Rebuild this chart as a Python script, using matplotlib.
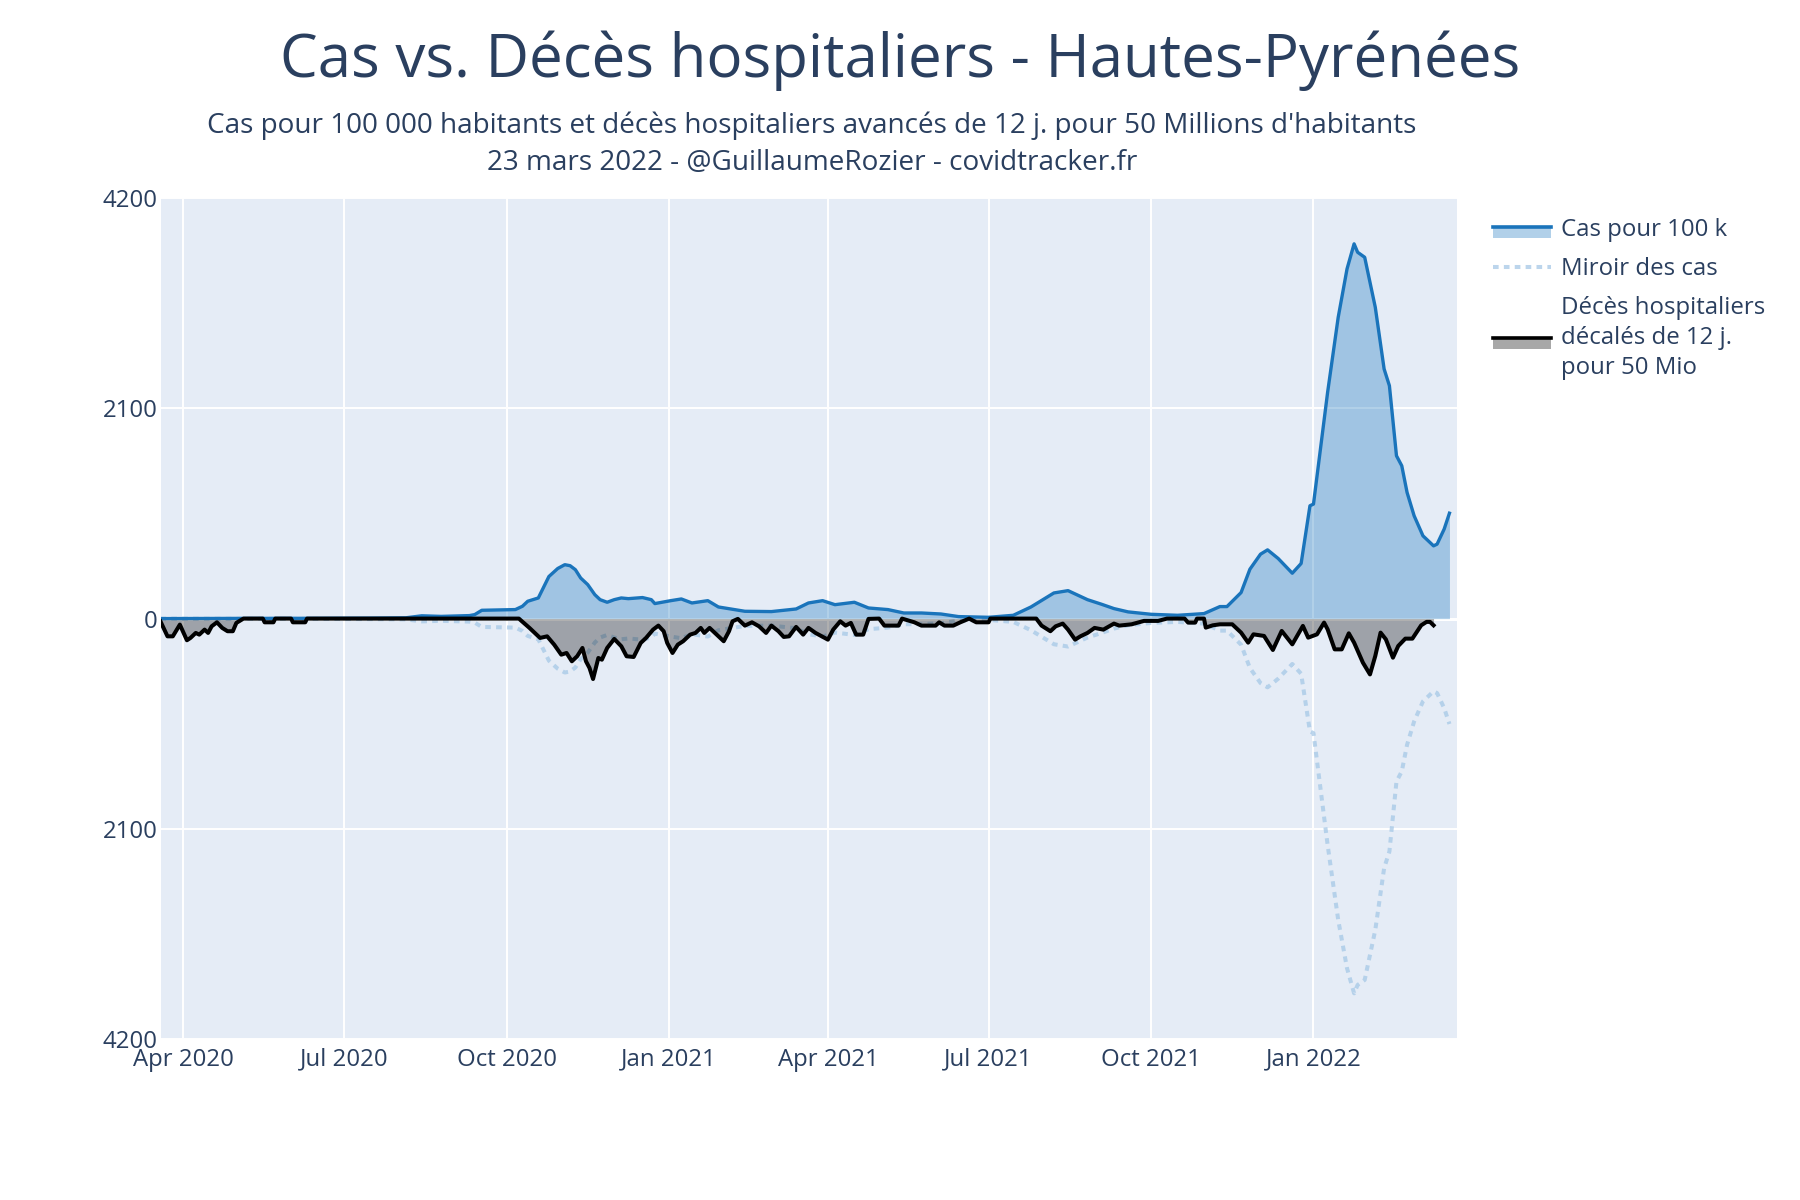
import matplotlib
matplotlib.use("Agg")
import matplotlib.pyplot as plt
import matplotlib.dates as mdates
from matplotlib.patches import Rectangle
from matplotlib.lines import Line2D
import numpy as np
import pandas as pd

# cases per 100k (7-day) - Hautes-Pyrenees
case_dates = ["2020-03-19", "2020-05-01", "2020-06-15", "2020-07-15", "2020-08-05", "2020-08-14",
              "2020-08-25", "2020-09-10", "2020-09-13", "2020-09-17", "2020-10-06", "2020-10-10",
              "2020-10-13", "2020-10-19", "2020-10-25", "2020-10-30", "2020-11-03", "2020-11-06",
              "2020-11-09", "2020-11-12", "2020-11-16", "2020-11-20", "2020-11-23", "2020-11-27",
              "2020-12-01", "2020-12-05", "2020-12-09", "2020-12-17", "2020-12-22", "2020-12-24",
              "2021-01-02", "2021-01-08", "2021-01-14", "2021-01-23", "2021-01-29", "2021-02-13",
              "2021-02-28", "2021-03-14", "2021-03-21", "2021-03-29", "2021-04-05", "2021-04-16",
              "2021-04-24", "2021-05-05", "2021-05-14", "2021-05-24", "2021-06-04", "2021-06-14",
              "2021-07-01", "2021-07-15", "2021-07-25", "2021-08-07", "2021-08-15", "2021-08-26",
              "2021-09-03", "2021-09-10", "2021-09-18", "2021-10-01", "2021-10-16", "2021-10-31",
              "2021-11-09", "2021-11-13", "2021-11-21", "2021-11-26", "2021-12-02", "2021-12-06",
              "2021-12-12", "2021-12-20", "2021-12-25", "2021-12-30", "2022-01-01", "2022-01-09",
              "2022-01-15", "2022-01-20", "2022-01-24", "2022-01-26", "2022-01-30", "2022-02-05",
              "2022-02-10", "2022-02-13", "2022-02-17", "2022-02-20", "2022-02-23", "2022-02-27",
              "2022-03-04", "2022-03-10", "2022-03-12", "2022-03-16", "2022-03-19"]
case_vals = [0, 2, 3, 5, 8, 28,
             22, 30, 40, 83, 90, 123,
             173, 206, 420, 500, 538, 528,
             488, 405, 339, 239, 189, 163,
             189, 206, 199, 210, 189, 150,
             179, 196, 156, 179, 116, 73,
             70, 96, 156, 179, 139, 163,
             106, 90, 56, 56, 46, 20,
             13, 33, 116, 256, 279, 189,
             143, 100, 67, 43, 33, 50,
             120, 120, 260, 493, 643, 686,
             600, 453, 550, 1126, 1143, 2258,
             3007, 3490, 3740, 3656, 3606, 3107,
             2491, 2324, 1625, 1525, 1259, 1026,
             826, 726, 743, 893, 1052]

# hospital deaths shifted 12 days, per 50 million
death_dates = ["2020-03-19", "2020-03-23", "2020-03-26", "2020-03-30", "2020-04-03", "2020-04-05",
               "2020-04-08", "2020-04-10", "2020-04-13", "2020-04-15", "2020-04-17", "2020-04-20",
               "2020-04-23", "2020-04-26", "2020-04-29", "2020-05-01", "2020-05-05", "2020-05-16",
               "2020-05-17", "2020-05-22", "2020-05-23", "2020-06-01", "2020-06-02", "2020-06-09",
               "2020-06-10", "2020-10-08", "2020-10-14", "2020-10-20", "2020-10-24", "2020-10-28",
               "2020-11-01", "2020-11-04", "2020-11-07", "2020-11-10", "2020-11-13", "2020-11-15",
               "2020-11-17", "2020-11-19", "2020-11-22", "2020-11-24", "2020-11-27", "2020-12-01",
               "2020-12-05", "2020-12-08", "2020-12-12", "2020-12-16", "2020-12-19", "2020-12-23",
               "2020-12-26", "2020-12-29", "2020-12-31", "2021-01-03", "2021-01-06", "2021-01-09",
               "2021-01-13", "2021-01-16", "2021-01-19", "2021-01-21", "2021-01-24", "2021-01-28",
               "2021-02-01", "2021-02-04", "2021-02-06", "2021-02-09", "2021-02-13", "2021-02-17",
               "2021-02-21", "2021-02-25", "2021-02-28", "2021-03-04", "2021-03-07", "2021-03-10",
               "2021-03-14", "2021-03-18", "2021-03-21", "2021-03-25", "2021-04-01", "2021-04-04",
               "2021-04-08", "2021-04-11", "2021-04-14", "2021-04-17", "2021-04-21", "2021-04-24",
               "2021-04-30", "2021-05-03", "2021-05-11", "2021-05-13", "2021-05-20", "2021-05-24",
               "2021-06-01", "2021-06-03", "2021-06-06", "2021-06-11", "2021-06-15", "2021-06-20",
               "2021-06-24", "2021-07-01", "2021-07-02", "2021-07-28", "2021-07-31", "2021-08-05",
               "2021-08-08", "2021-08-12", "2021-08-15", "2021-08-19", "2021-08-22", "2021-08-26",
               "2021-08-30", "2021-09-04", "2021-09-10", "2021-09-13", "2021-09-20", "2021-09-27",
               "2021-10-05", "2021-10-10", "2021-10-20", "2021-10-22", "2021-10-26", "2021-10-27",
               "2021-10-31", "2021-11-01", "2021-11-05", "2021-11-09", "2021-11-16", "2021-11-21",
               "2021-11-25", "2021-11-28", "2021-12-04", "2021-12-09", "2021-12-14", "2021-12-20",
               "2021-12-26", "2021-12-29", "2022-01-03", "2022-01-07", "2022-01-09", "2022-01-13",
               "2022-01-17", "2022-01-21", "2022-01-24", "2022-01-29", "2022-02-02", "2022-02-05",
               "2022-02-08", "2022-02-11", "2022-02-15", "2022-02-18", "2022-02-22", "2022-02-26",
               "2022-03-03", "2022-03-06", "2022-03-08", "2022-03-10"]
death_vals = [27, 177, 177, 60, 216, 193,
              143, 160, 110, 143, 77, 37,
              93, 126, 126, 43, 0, 0,
              37, 37, 0, 0, 37, 37,
              0, 0, 93, 193, 177, 260,
              360, 343, 426, 376, 293, 426,
              493, 603, 393, 410, 293, 203,
              276, 376, 383, 243, 193, 110,
              70, 126, 243, 343, 260, 226,
              160, 143, 93, 143, 93, 160,
              226, 126, 27, 3, 70, 37,
              77, 143, 70, 126, 183, 177,
              83, 160, 93, 143, 210, 110,
              27, 70, 43, 160, 160, 3,
              0, 70, 70, 0, 37, 70,
              70, 37, 70, 70, 37, 0,
              37, 37, 0, 0, 70, 126,
              77, 50, 110, 210, 177, 143,
              93, 110, 50, 70, 57, 23,
              23, 0, 0, 40, 40, 0,
              0, 90, 67, 57, 57, 140,
              240, 157, 173, 313, 123, 257,
              73, 190, 157, 40, 107, 307,
              307, 147, 240, 440, 557, 373,
              140, 207, 390, 273, 200, 200,
              67, 33, 33, 67]

title = "Cas vs. Décès hospitaliers - Hautes-Pyrénées"
subtitle = ("Cas pour 100 000 habitants et décès hospitaliers avancés de 12 j. pour 50 Millions d'habitants\n"
            "23 mars 2022 - @GuillaumeRozier - covidtracker.fr")
legend_labels = ["Cas pour 100 k", "Miroir des cas", "Décès hospitaliers\ndécalés de 12 j.\npour 50 Mio"]

TXT = "#2a3f5f"
BG = "#e5ecf6"
BLUE = "#1a74bb"
BLUE_FILL = (20/255, 115/255, 190/255, 0.33)
MIRROR = "#a6c8e6"
GREY_FILL = (0, 0, 0, 0.31)

plt.rcParams['font.family'] = ['Open Sans', 'DejaVu Sans']

cx = pd.to_datetime(case_dates)
cy = np.array(case_vals, dtype=float)
dx = pd.to_datetime(death_dates)
dy = -np.array(death_vals, dtype=float)

fig = plt.figure(figsize=(18, 12), dpi=100)
ax = fig.add_axes([0.0897, 0.1338, 0.7198, 0.7014])
ax.set_facecolor(BG)

ax.plot(cx, -cy, color=MIRROR, lw=2.9, alpha=0.75, linestyle=(0, (1.4, 1.3)), zorder=2)
ax.fill_between(cx, 0, cy, color=BLUE_FILL, lw=0, zorder=3)
ax.fill_between(dx, 0, dy, color=GREY_FILL, lw=0, zorder=3)
ax.plot(cx, cy, color=BLUE, lw=2.4, zorder=4)
ax.plot(dx, dy, color="black", lw=2.9, zorder=5)

ax.set_ylim(-4200, 4200)
ax.set_yticks([-4200, -2100, 0, 2100, 4200])
ax.set_yticklabels(["4200", "2100", "0", "2100", "4200"])
ax.set_xlim(pd.Timestamp("2020-03-19 14:00"), pd.Timestamp("2022-03-23 08:00"))
ax.xaxis.set_major_locator(mdates.MonthLocator(bymonth=[1, 4, 7, 10]))
ax.xaxis.set_major_formatter(mdates.DateFormatter("%b %Y"))

ax.grid(True, color="white", lw=1.4, zorder=0)
ax.axhline(0, color="white", lw=2.2, zorder=1)
ax.set_axisbelow(True)
for s in ax.spines.values():
    s.set_visible(False)
ax.tick_params(axis="both", length=0, labelsize=17.3, colors=TXT)
ax.tick_params(axis="x", pad=6)
ax.tick_params(axis="y", pad=3)

fig.text(0.5, 1 - 61/1200, title, ha="center", va="center", fontsize=43.2, color=TXT)
fig.text(0.451, 1 - 144/1200, subtitle, ha="center", va="center", fontsize=20.1, color=TXT,
         linespacing=1.44)


class LineFillHandler:
    def __init__(self, lc, fc, lw):
        self.lc = lc
        self.fc = fc
        self.lw = lw

    def legend_artist(self, legend, orig_handle, fontsize, handlebox):
        x0, y0 = handlebox.xdescent, handlebox.ydescent
        w, h = handlebox.width, handlebox.height
        tr = handlebox.get_transform()
        rect = Rectangle((x0, y0 - h*0.1), w, h*0.65, facecolor=self.fc, lw=0, transform=tr)
        line = Line2D([x0, x0 + w], [y0 + h*0.55]*2, color=self.lc, lw=self.lw, transform=tr)
        handlebox.add_artist(rect)
        handlebox.add_artist(line)
        return rect


h_cas = object()
h_dec = object()
h_mir = Line2D([], [], color=MIRROR, lw=2.9, alpha=0.75, linestyle=(0, (1.4, 1.3)))
leg = fig.legend([h_cas, h_mir, h_dec], legend_labels, loc="upper left",
                 bbox_to_anchor=(0.8294, 0.818), frameon=False, fontsize=17.3,
                 borderpad=0, borderaxespad=0,
                 labelcolor=TXT, handlelength=2.4, handletextpad=0.45, labelspacing=0.61,
                 handler_map={h_cas: LineFillHandler(BLUE, (20/255, 115/255, 190/255, 0.33), 2.6),
                              h_dec: LineFillHandler("black", (0.66, 0.66, 0.66), 2.6)})
for t in leg.get_texts():
    t.set_linespacing(1.35)

fig.savefig("out.png", dpi=100)
